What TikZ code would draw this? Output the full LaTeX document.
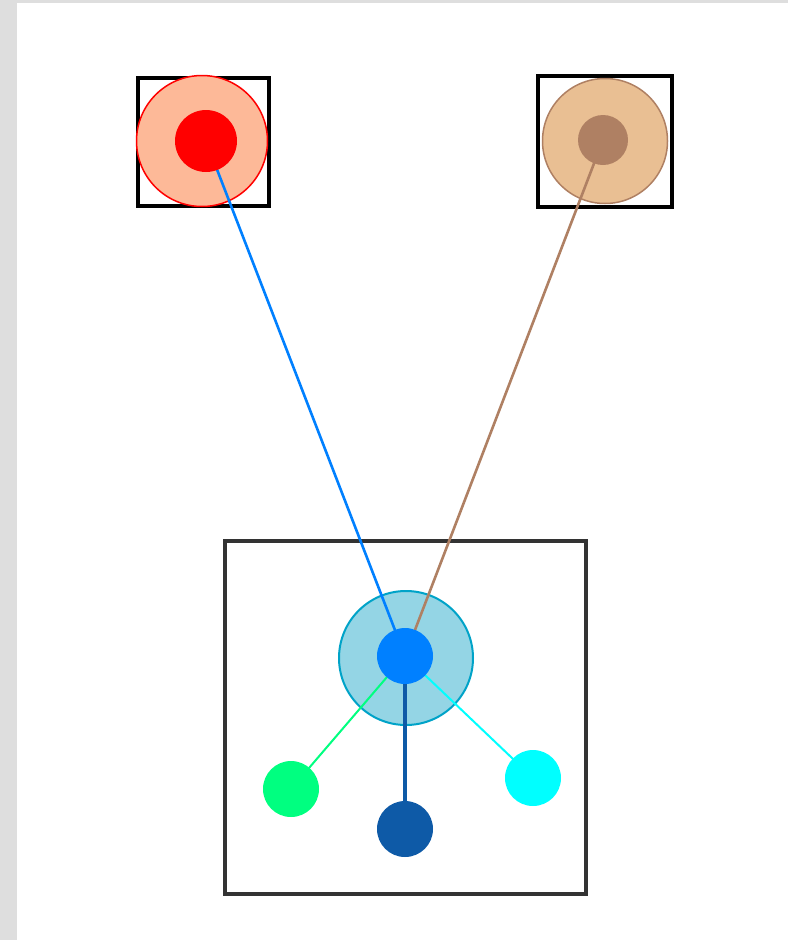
\documentclass[tikz,border=0pt]{standalone}
\usetikzlibrary{calc}
\definecolor{pagegray}{HTML}{DEDEDE}
\definecolor{peach}{HTML}{FDB998}
\definecolor{tan}{HTML}{E9BF93}
\definecolor{brownish}{HTML}{AF8063}
\definecolor{hubfill}{HTML}{94D5E5}
\definecolor{hubline}{HTML}{00A3C8}
\definecolor{azure}{HTML}{0080FF}
\definecolor{navy}{HTML}{0E5AA7}
\definecolor{spring}{HTML}{00FF80}
\definecolor{aqua}{HTML}{00FFFF}
\pgfdeclarelayer{front}
\pgfsetlayers{main,front}
\tikzset{
  frame/.style={draw=black, line width=4pt, fill=white},
  halo/.style={circle, inner sep=0pt, minimum size=#1},
  dot/.style={circle, inner sep=0pt, minimum size=56pt, draw=none},
}
\begin{document}
\begin{tikzpicture}[x=1pt, y=-1pt]
% page background
\fill[pagegray] (0,0) rectangle (788,940);
\fill[white] (17,3) rectangle (788,940);
\useasboundingbox (0,0) rectangle (788,940);

% frames
\draw[frame] (138,78) rectangle (269,206);
\draw[frame] (538,76) rectangle (671.5,206.5);
\draw[frame, draw=black!80] (225,541) rectangle (586,894);

% large circles
\node[halo=131pt, fill=peach, draw=red, line width=1.5pt] (ha) at (202,141) {};
\node[halo=125pt, fill=tan, draw=brownish, line width=1.5pt] (hb) at (605,141) {};
\node[halo=134pt, fill=hubfill, draw=hubline, line width=2pt] (hub) at (406,658) {};

% small dots
\begin{pgfonlayer}{front}
\node[dot, minimum size=62pt, fill=red] (ra) at (206,141) {};
\node[dot, minimum size=50pt, fill=brownish] (rb) at (603,140) {};
\node[dot, fill=azure] (c) at (405,656) {};
\node[dot, fill=spring] (g) at (291,789) {};
\node[dot, fill=navy] (d) at (405,829) {};
\node[dot, fill=aqua] (q) at (533,778) {};
\end{pgfonlayer}

% connectors
\draw[azure, line width=2.6pt] (c.center) -- (ra.center);
\draw[brownish, line width=2.6pt] (c.center) -- (rb.center);
\draw[spring, line width=2pt] (c.center) -- (g.center);
\draw[aqua, line width=2pt] (c.center) -- (q.center);
\draw[navy, line width=4.5pt] (c.center) -- (d.center);
\end{tikzpicture}
\end{document}
